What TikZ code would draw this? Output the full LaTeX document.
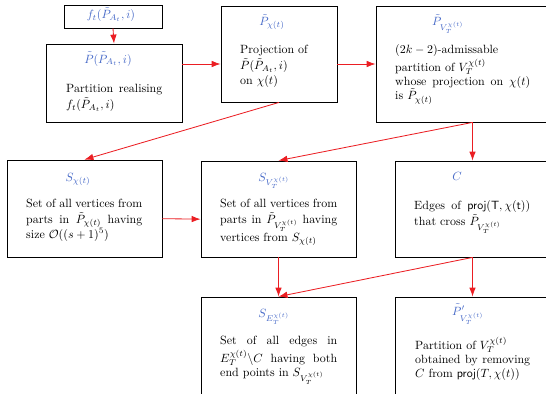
\documentclass[tikz,border=0pt]{standalone}
\usetikzlibrary{arrows.meta,shadows,fit}
\definecolor{tblue}{RGB}{70,105,200}
\definecolor{ared}{RGB}{235,30,35}
\begin{document}
\begin{tikzpicture}[x=0.8333bp,y=-0.8333bp,
  box/.style={draw=black, line width=0.7pt, fill=white, inner sep=0pt,
    drop shadow={shadow xshift=1.2pt,shadow yshift=-1.2pt,fill=black!50,opacity=1}},
  ttl/.style={text=tblue, anchor=base, inner sep=0pt},
  body/.style={anchor=north west, inner sep=0pt, align=justify},
  arr/.style={draw=ared, line width=0.7pt, -{Latex[length=7.5pt,width=5.5pt]}}]
\clip (0,0) rectangle (546,393);
% boxes
\node[box, fit={(64,5) (162,28)}] (f) {};
\node[box, fit={(46,44) (182,122)}] (b1) {};
\node[box, fit={(221,6) (337,102)}] (b2) {};
\node[box, fit={(376,6) (551,122)}] (b3) {};
\node[box, fit={(7,160) (162,257)}] (sx) {};
\node[box, fit={(201,161) (356,257)}] (sv) {};
\node[box, fit={(395,161) (550,257)}] (c) {};
\node[box, fit={(201,297) (356,394)}] (se) {};
\node[box, fit={(395,297) (550,394)}] (pp) {};
% titles
\node[ttl] (tf) at (111,19) {$f_t(\tilde P_{A_t},i)$};
\node[ttl] (t1) at (108,63) {$\tilde P(\tilde P_{A_t},i)$};
\node[ttl] (t2) at (272,25.5) {$\tilde P_{\chi(t)}$};
\node[ttl] (t3) at (448,26) {$\tilde P_{V_T^{\chi(t)}}$};
\node[ttl] (t4) at (78,181) {$S_{\chi(t)}$};
\node[ttl] (t5) at (274,181) {$S_{V_T^{\chi(t)}}$};
\node[ttl] (t6) at (457,180) {$C$};
\node[ttl] (t7) at (274,317) {$S_{E_T^{\chi(t)}}$};
\node[ttl] (t8) at (468,315) {$\tilde P'_{V_T^{\chi(t)}}$};
% bodies
\node[body, text width=80bp] (x1) at (66,82)
  {\strut Partition realising\linebreak $f_t(\tilde P_{A_t},i)$};
\node[body, text width=64bp] (x2) at (240,43)
  {\strut Projection of\\ $\tilde P(\tilde P_{A_t},i)$\\ on $\chi(t)$};
\node[body, text width=112.5bp] (x3) at (395,43)
  {\strut $(2k-2)$-admissable\\ partition of $V_T^{\chi(t)}$\\ whose projection on $\chi(t)$\linebreak is $\tilde P_{\chi(t)}$};
\node[body, text width=96.7bp] (x4) at (26,197)
  {\strut Set of all vertices from\linebreak parts in $\tilde P_{\chi(t)}$ having\linebreak size $\mathcal{O}((s+1)^5)$};
\node[body, text width=97.5bp] (x5) at (220,197)
  {\strut Set of all vertices from\linebreak parts in $\tilde P_{V_T^{\chi(t)}}$ having\linebreak vertices from $S_{\chi(t)}$};
\node[body, text width=96.7bp] (x6) at (414,199)
  {\strut Edges of $\mathsf{proj}(\mathsf{T},\chi(\mathsf{t}))$\linebreak that cross $\tilde P_{V_T^{\chi(t)}}$};
\node[body, text width=97.5bp] (x7) at (220,334)
  {\strut Set of all edges in\linebreak $E_T^{\chi(t)}\backslash C$ having both\linebreak end points in $S_{V_T^{\chi(t)}}$};
\node[body, text width=95.8bp] (x8) at (415,336.5)
  {\strut Partition of $V_T^{\chi(t)}$\\ obtained by removing\linebreak $C$ from $\mathsf{proj}(T,\chi(t))$};
% connectors
\coordinate (b3o) at (b3.south -| c.north);
\draw[arr] (f.south) -- (b1.north);
\draw[arr] (b1.east |- b3.west) -- (b2.west |- b3.west);
\draw[arr] (b2.east |- b3.west) -- (b3.west);
\draw[arr] (b2.south) -- (sx.north);
\draw[arr] (b3o) -- (sv.north);
\draw[arr] (b3o) -- (c.north);
\draw[arr] ([yshift=-8.5pt]sx.east) -- ([yshift=-8.5pt]sv.west);
\draw[arr] (sv.south) -- (se.north);
\draw[arr] (c.south) -- (se.north);
\draw[arr] (c.south) -- (pp.north);
\end{tikzpicture}
\end{document}
